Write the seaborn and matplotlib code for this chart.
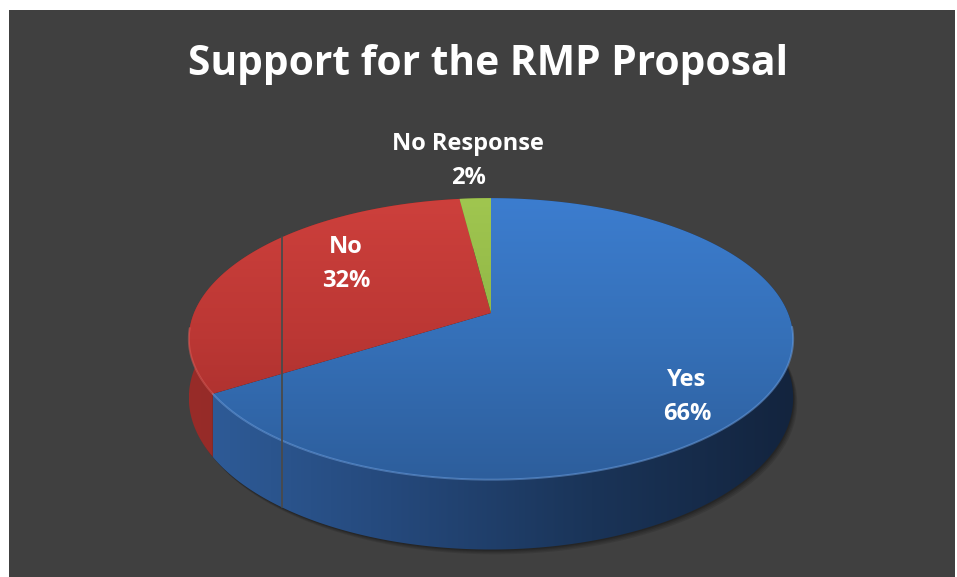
import numpy as np
import matplotlib
matplotlib.use("Agg")
import matplotlib.pyplot as plt
from matplotlib.patches import Polygon, Rectangle
from matplotlib.colors import LinearSegmentedColormap
import seaborn as sns

# ---- data ----
title = "Support for the RMP Proposal"
categories = ["Yes", "No", "No Response"]
values = [66, 32, 2]

# ---- styling ----
top_colors = {
    "Yes": ["#3c7dcf", "#3570b8", "#2d5e9c"],
    "No": ["#cd403c", "#bb3734", "#a02c2a"],
    "No Response": ["#a0c650", "#8fb545", "#7ea23a"],
}
side_colors = {
    "Yes": ["#2f5d9a", "#25497c", "#1a3458", "#13243e"],
    "No": ["#982c29", "#86251f", "#74201d", "#641b19"],
    "No Response": ["#7e9f38", "#6d8a30", "#5d7628", "#4e6322"],
}
edge_light = {"Yes": "#6fa3e6", "No": "#e0605b", "No Response": "#bfe070"}
# label anchors (baseline of the category line)
label_pos = {"Yes": (687, 386), "No": (346, 253), "No Response": (468, 150)}

sns.set_theme(style="dark")
plt.rcParams["font.family"] = ["Open Sans", "DejaVu Sans"]

W, H = 957, 577
fig = plt.figure(figsize=(W / 100, H / 100), dpi=100)
fig.patch.set_facecolor("white")
ax = fig.add_axes([0, 0, 1, 1])
ax.set_facecolor("white")
ax.axis("off")

# chart area
ax.add_patch(Rectangle((9, 10), 946, 567, facecolor="#404040",
                       edgecolor="none", zorder=0))

# ---- perspective projection of a flat disc ----
CX, CY = 491, 313
A, B, K = 297, 136, 0.184
THICK = 57


def project(theta, depth=0.0):
    u = np.cos(theta)
    w = np.sin(theta)
    d = 1 + K * w
    return CX + A * u / d, CY - (B * w - depth) / d


def frac_to_theta(f):
    # clockwise from twelve o'clock
    return np.pi / 2 - 2 * np.pi * f


def gradient_fill(verts, colors, extent, horizontal, zorder):
    poly = Polygon(verts, closed=True, facecolor="none", edgecolor="none")
    ax.add_patch(poly)
    t = np.linspace(0, 1, 256)
    grad = t[None, :] if horizontal else t[:, None]
    cmap = LinearSegmentedColormap.from_list("g", colors)
    im = ax.imshow(grad, cmap=cmap, extent=extent, origin="upper",
                   aspect="auto", interpolation="bilinear", zorder=zorder)
    im.set_clip_path(poly)


total = float(sum(values))
bounds = np.concatenate([[0], np.cumsum(values) / total])

full = np.linspace(0, 2 * np.pi, 720)
top_x, top_y = project(full)
bot_x, bot_y = project(full, THICK)
top_ext = (top_x.min(), top_x.max(), top_y.max(), top_y.min())
side_ext = (top_x.min(), top_x.max(), bot_y.max(), top_y.min())

# soft drop shadow under the disc
for i, a in enumerate([0.10, 0.10, 0.12, 0.14]):
    off = 4 - i
    ax.add_patch(Polygon(np.column_stack([bot_x + off, bot_y + off * 1.2]),
                         closed=True, facecolor="black", alpha=a,
                         edgecolor="none", zorder=1))

for cat, f0, f1 in zip(categories, bounds[:-1], bounds[1:]):
    th = np.linspace(frac_to_theta(f0), frac_to_theta(f1),
                     max(int((f1 - f0) * 720), 8))
    tx, ty = project(th)
    bx, by = project(th, THICK)

    # outer wall
    wall = np.column_stack([np.r_[tx, bx[::-1]], np.r_[ty, by[::-1]]])
    gradient_fill(wall, side_colors[cat], side_ext, True, 2)

    # top face
    top = np.column_stack([np.r_[CX, tx], np.r_[CY, ty]])
    gradient_fill(top, top_colors[cat], top_ext, False, 3)

    # light bevel on the front rim
    front = np.sin(th) < -0.1
    if front.any():
        ax.plot(tx[front], ty[front], color=edge_light[cat], lw=1.4,
                alpha=0.5, zorder=4, solid_capstyle="round")

    # data label
    lx, ly = label_pos[cat]
    pct = int(round(100 * (f1 - f0)))
    ax.text(lx, ly, cat, color="white", fontsize=17, fontweight="bold",
            ha="center", va="baseline", zorder=6)
    ax.text(lx, ly + 34, f"{pct}%", color="white", fontsize=17,
            fontweight="bold", ha="center", va="baseline", zorder=6)

# thin vertical rule across the disc
vx = 282
back = np.sin(full) > 0
front_b = np.sin(full) < 0
o1 = np.argsort(top_x[back])
o2 = np.argsort(bot_x[front_b])
y_top = np.interp(vx, top_x[back][o1], top_y[back][o1])
y_bot = np.interp(vx, bot_x[front_b][o2], bot_y[front_b][o2])
ax.plot([vx, vx], [y_top, y_bot], color="#4a4a4a", lw=1.3, zorder=5)

ax.text(488, 75, title, color="white", fontsize=29.3, fontweight="bold",
        ha="center", va="baseline", zorder=6)

ax.set_xlim(0, W)
ax.set_ylim(H, 0)
fig.savefig("out.png", dpi=100, facecolor=fig.get_facecolor())
